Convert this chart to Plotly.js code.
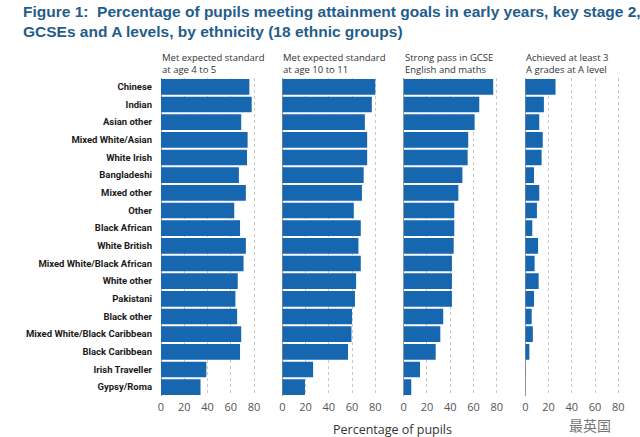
<!DOCTYPE html>
<html>
<head>
<meta charset="utf-8">
<script src="https://cdn.plot.ly/plotly-3.0.1.min.js"></script>
<style>html,body{margin:0;padding:0;background:#fff;}#chart{width:640px;height:437px;}</style>
</head>
<body>
<div id="chart"></div>
<script>
const groups = ["Chinese","Indian","Asian other","Mixed White/Asian","White Irish","Bangladeshi","Mixed other","Other","Black African","White British","Mixed White/Black African","White other","Pakistani","Black other","Mixed White/Black Caribbean","Black Caribbean","Irish Traveller","Gypsy/Roma"];
const earlyYears = [76,78,69,74.5,74,67,73,63,68,73,71,66,64,65.5,69,68,39,34];
const keyStage2 = [80,77,71,73,73,70,68.5,61.5,67.5,65.5,67.5,63.5,62.5,60,59.5,56.5,26.5,19.5];
const gcse = [77,65,61,55.5,55,50.5,47,43.5,43.5,43,41.5,41.5,41.5,34,31.5,27.5,14,6.5];
const aLevel = [26,16,12,15,14,7.5,12,10,6,11,8,11.5,7.5,5.5,6.5,3.5,0.3,0];
const panelTitles = ["Met expected standard<br>at age 4 to 5","Met expected standard<br>at age 10 to 11","Strong pass in GCSE<br>English and maths","Achieved at least 3<br>A grades at A level"];
const tickValues = [0,20,40,60,80];
const xTitle = "Percentage of pupils";
const chartTitle = "Figure 1:  Percentage of pupils meeting attainment goals in early years, key stage 2,<br>GCSEs and A levels, by ethnicity (18 ethnic groups)";
const watermark = "最英国";

const W = 640, H = 437;
const series = [earlyYears, keyStage2, gcse, aLevel];
const starts = [161, 282.3, 403.7, 525.3];
const pxPerUnit = 1.1625;
const xMax = 95;
const plotTop = 78, plotBottom = 396;
const barColor = "#1666b0";

const traces = [];
const layout = {
  width: W, height: H,
  margin: {l:0, r:0, t:0, b:0},
  paper_bgcolor: "#fff", plot_bgcolor: "rgba(0,0,0,0)",
  showlegend: false,
  bargap: 0.11,
  annotations: [],
  font: {family: "Open Sans, sans-serif"}
};

layout.annotations.push({
  text: chartTitle, xref: "paper", yref: "paper", x: 21 / W, xanchor: "left",
  y: 1 - 1 / H, yanchor: "top", align: "left", showarrow: false,
  font: {family: "Liberation Sans, Arial, sans-serif", size: 15.5, color: "#1f5d8c", weight: 700}
});

series.forEach((vals, i) => {
  const n = i === 0 ? "" : String(i+1);
  traces.push({
    type: "bar", orientation: "h",
    x: vals, y: groups,
    xaxis: "x" + n, yaxis: "y" + n,
    marker: {color: barColor},
    hoverinfo: "x+y"
  });
  const d0 = starts[i] / W, d1 = (starts[i] + xMax * pxPerUnit) / W;
  layout["xaxis" + n] = {
    domain: [d0, d1], range: [0, xMax], anchor: "y" + n,
    tickvals: tickValues, ticktext: tickValues.map(String),
    showgrid: true, gridcolor: "#c8c8c8", griddash: "dot", gridwidth: 1,
    zeroline: true, zerolinecolor: "#999", zerolinewidth: 1,
    showline: false, ticks: "", ticklabelstandoff: 3,
    tickfont: {family: "Open Sans, sans-serif", size: 11, color: "#555"},
    fixedrange: true
  };
  layout["yaxis" + n] = {
    domain: [1 - plotBottom / H, 1 - plotTop / H],
    anchor: "x" + n,
    type: "category", autorange: "reversed",
    showticklabels: i === 0, ticks: "", showgrid: false, zeroline: false, showline: false,
    ticklabelstandoff: 8,
    tickfont: {family: "Roboto, sans-serif", size: 9.5, color: "#1a1a1a", weight: 700},
    fixedrange: true
  };
  layout.annotations.push({
    text: panelTitles[i], xref: "paper", yref: "paper",
    x: starts[i] / W - 1 / W, xanchor: "left", y: 1 - 49 / H, yanchor: "top",
    align: "left", showarrow: false,
    font: {family: "Open Sans, sans-serif", size: 9.5, color: "#333"}
  });
});

layout.annotations.push({
  text: xTitle, xref: "paper", yref: "paper", x: 392 / W, xanchor: "center",
  y: 1 - 429 / H, yanchor: "middle", showarrow: false,
  font: {family: "Open Sans, sans-serif", size: 12.5, color: "#333"}
});
layout.annotations.push({
  text: watermark, xref: "paper", yref: "paper", x: 590 / W, xanchor: "center",
  y: 1 - 425 / H, yanchor: "middle", showarrow: false,
  font: {family: "Noto Sans CJK SC, sans-serif", size: 14, color: "#777"}
});

Plotly.newPlot("chart", traces, layout, {displayModeBar: false, staticPlot: true});
</script>
</body>
</html>
